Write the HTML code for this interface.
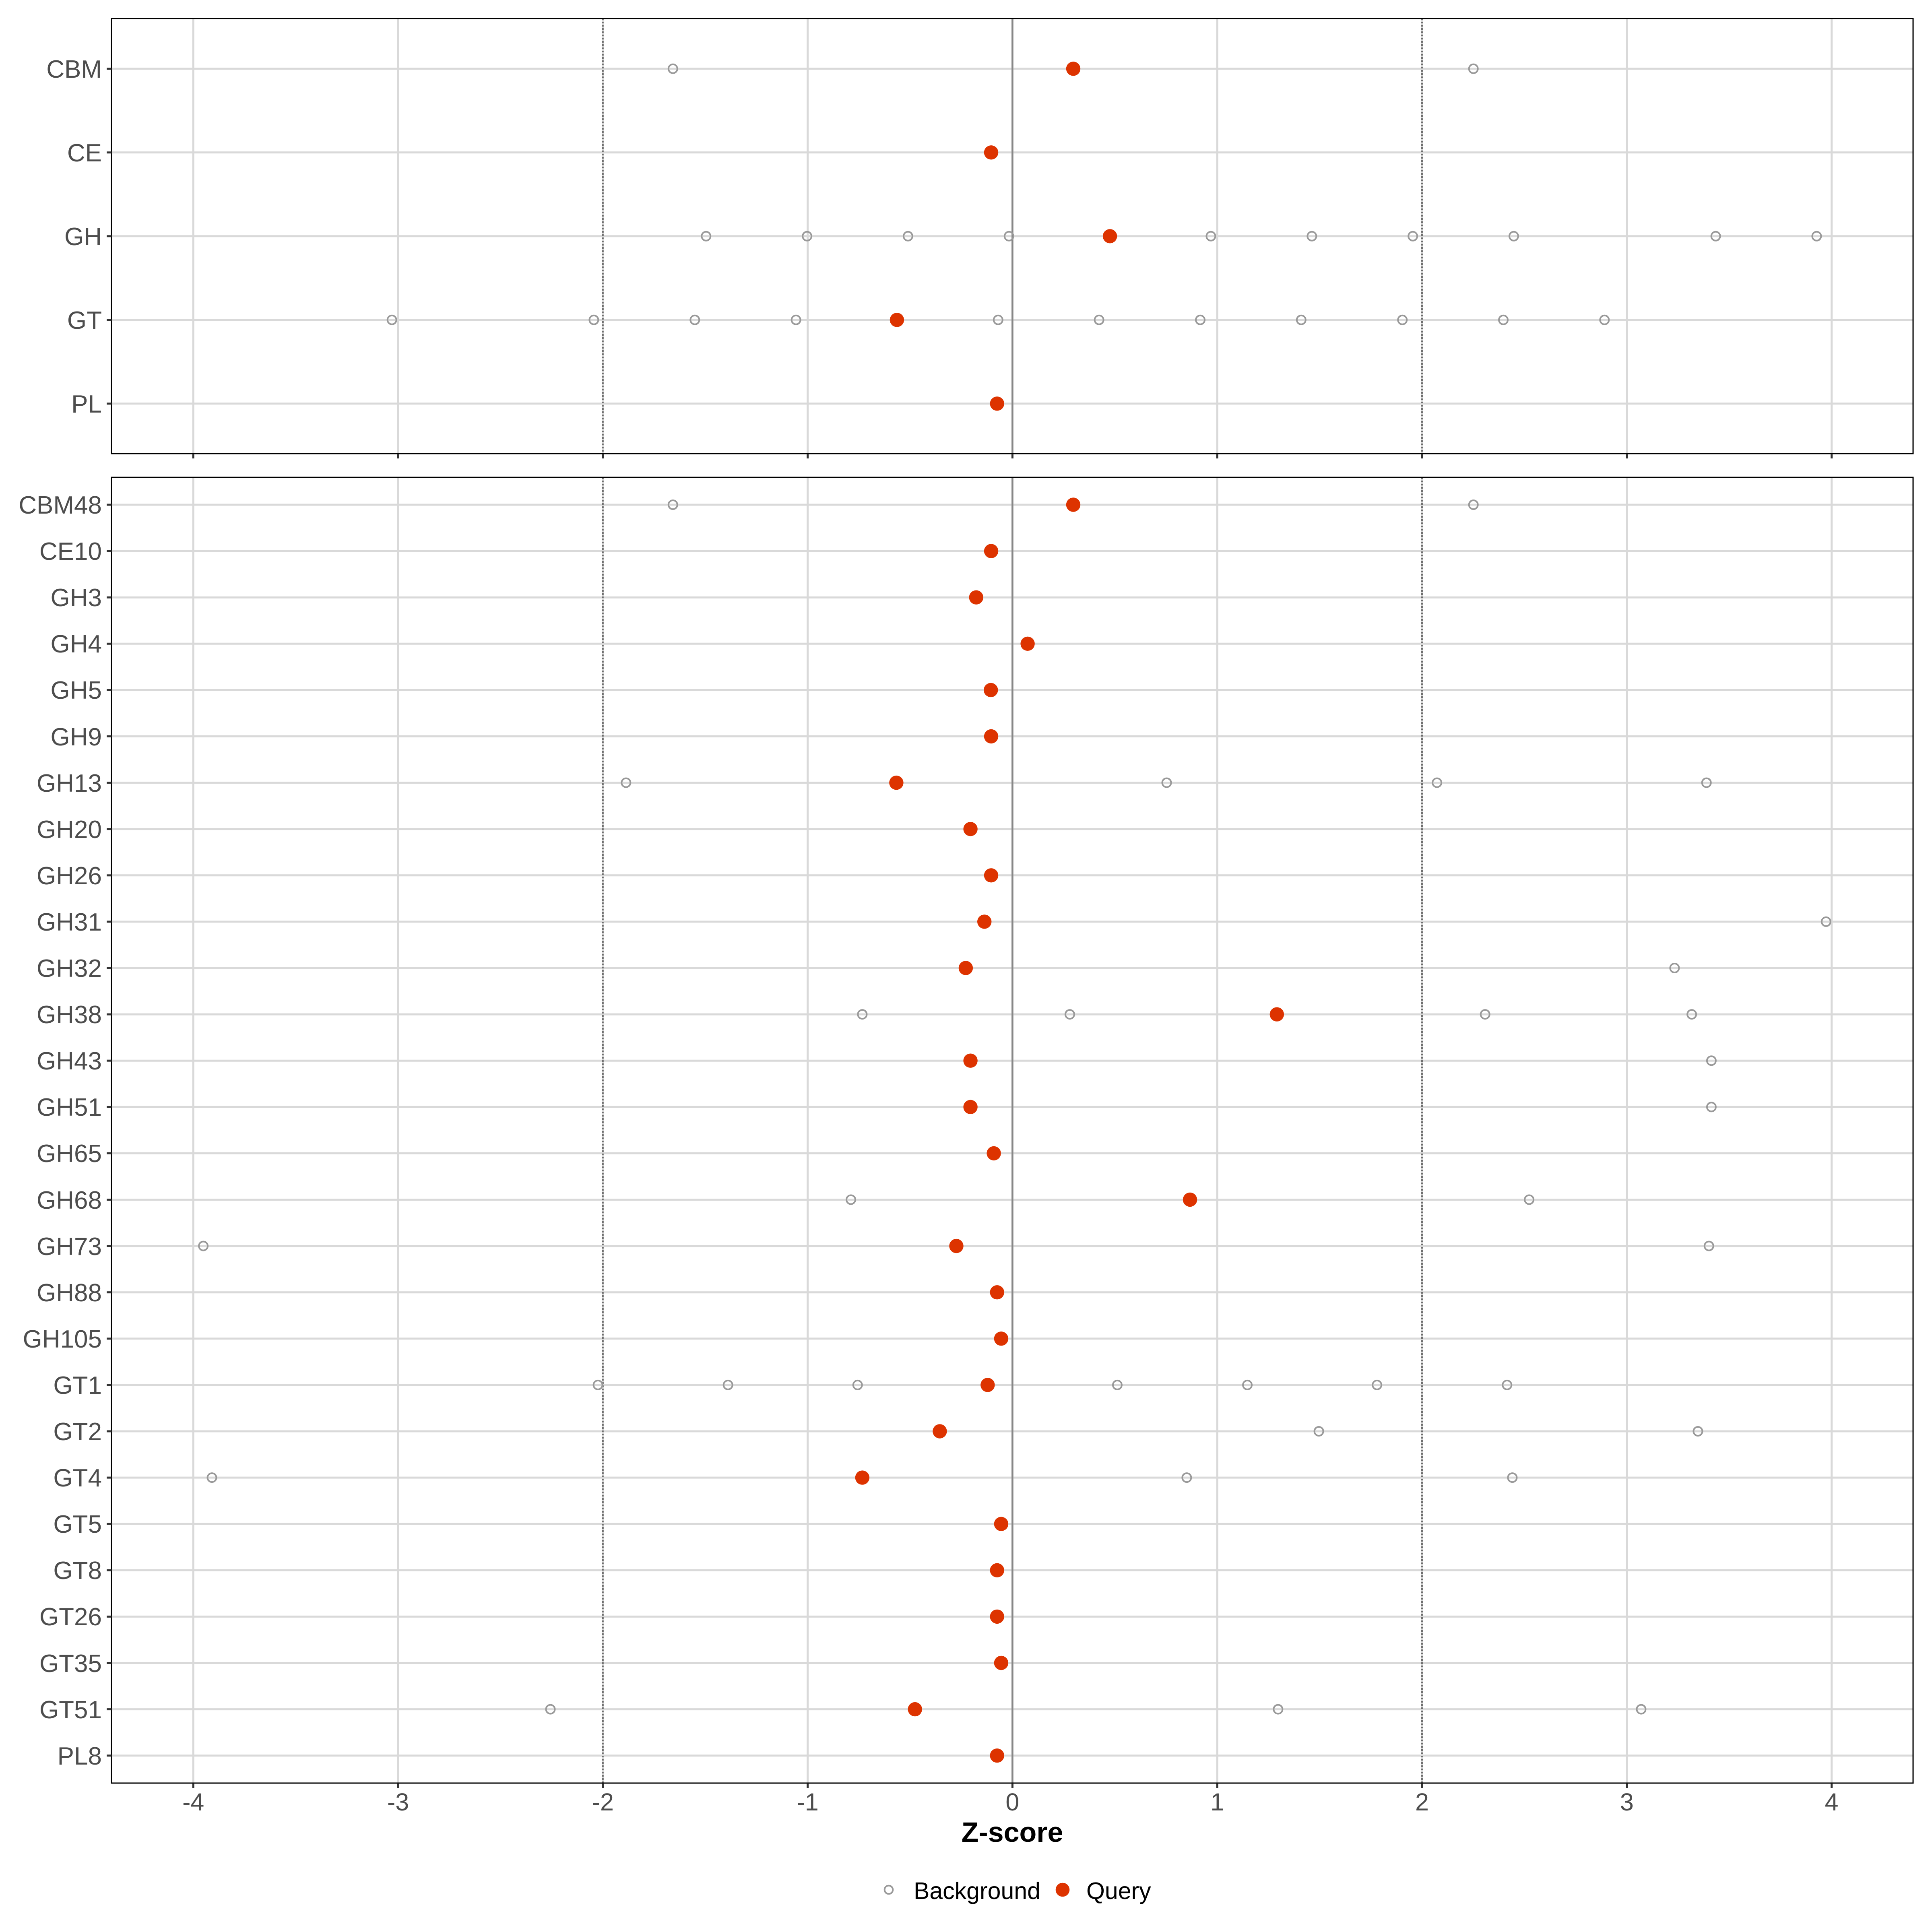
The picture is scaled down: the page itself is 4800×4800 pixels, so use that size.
<!DOCTYPE html>
<html>
<head>
<meta charset="utf-8">
<style>
html,body{margin:0;padding:0;background:#fff;}
svg{display:block;}
text{font-family:"Liberation Sans",Arial,sans-serif;}
</style>
</head>
<body>
<svg xmlns="http://www.w3.org/2000/svg" width="4800" height="4800" viewBox="0 0 4800 4800">
<rect x="0" y="0" width="4800" height="4800" fill="#fff"/>
<defs>
<clipPath id="cTop"><rect x="277" y="46" width="4476" height="1081"/></clipPath>
<clipPath id="cBot"><rect x="277" y="1186" width="4476" height="3244"/></clipPath>
</defs>

<!-- ================= TOP PANEL ================= -->
<g clip-path="url(#cTop)">
  <g stroke="#d9d9d9" stroke-width="5">
    <line x1="277" x2="4753" y1="170.8" y2="170.8"/>
    <line x1="277" x2="4753" y1="378.8" y2="378.8"/>
    <line x1="277" x2="4753" y1="586.8" y2="586.8"/>
    <line x1="277" x2="4753" y1="794.8" y2="794.8"/>
    <line x1="277" x2="4753" y1="1002.8" y2="1002.8"/>
    <line x1="480.2" x2="480.2" y1="46" y2="1127"/>
    <line x1="989" x2="989" y1="46" y2="1127"/>
    <line x1="1497.8" x2="1497.8" y1="46" y2="1127"/>
    <line x1="2006.6" x2="2006.6" y1="46" y2="1127"/>
    <line x1="2515.4" x2="2515.4" y1="46" y2="1127"/>
    <line x1="3024.2" x2="3024.2" y1="46" y2="1127"/>
    <line x1="3533" x2="3533" y1="46" y2="1127"/>
    <line x1="4041.8" x2="4041.8" y1="46" y2="1127"/>
    <line x1="4550.6" x2="4550.6" y1="46" y2="1127"/>
  </g>
  <line x1="2515.4" x2="2515.4" y1="46" y2="1127" stroke="#878787" stroke-width="4.5"/>
  <g stroke="#6e6e6e" stroke-width="4" stroke-dasharray="4 4">
    <line x1="1497.8" x2="1497.8" y1="46" y2="1127"/>
    <line x1="3533" x2="3533" y1="46" y2="1127"/>
  </g>
  <g fill="none" stroke="#999" stroke-width="4">
    <circle cx="1671.8" cy="170.8" r="11"/>
    <circle cx="3660.7" cy="170.8" r="11"/>
    <circle cx="1754.2" cy="586.8" r="11"/>
    <circle cx="2005.1" cy="586.8" r="11"/>
    <circle cx="2255.9" cy="586.8" r="11"/>
    <circle cx="2506.8" cy="586.8" r="11"/>
    <circle cx="3008.4" cy="586.8" r="11"/>
    <circle cx="3259.3" cy="586.8" r="11"/>
    <circle cx="3510.1" cy="586.8" r="11"/>
    <circle cx="3760.9" cy="586.8" r="11"/>
    <circle cx="4262.6" cy="586.8" r="11"/>
    <circle cx="4513.4" cy="586.8" r="11"/>
    <circle cx="973.7" cy="794.8" r="11"/>
    <circle cx="1475.4" cy="794.8" r="11"/>
    <circle cx="1726.3" cy="794.8" r="11"/>
    <circle cx="1977.6" cy="794.8" r="11"/>
    <circle cx="2479.8" cy="794.8" r="11"/>
    <circle cx="2730.6" cy="794.8" r="11"/>
    <circle cx="2982" cy="794.8" r="11"/>
    <circle cx="3232.8" cy="794.8" r="11"/>
    <circle cx="3484.2" cy="794.8" r="11"/>
    <circle cx="3735" cy="794.8" r="11"/>
    <circle cx="3986.3" cy="794.8" r="11"/>
  </g>
  <g fill="#dd3300">
    <circle cx="2666.5" cy="170.8" r="17.7"/>
    <circle cx="2462.5" cy="378.8" r="17.7"/>
    <circle cx="2757.6" cy="586.8" r="17.7"/>
    <circle cx="2228.4" cy="794.8" r="17.7"/>
    <circle cx="2477.2" cy="1002.8" r="17.7"/>
  </g>
</g>
<rect x="277" y="46" width="4476" height="1081" fill="none" stroke="#000" stroke-width="3"/>

<!-- top panel y ticks & labels -->
<g stroke="#333" stroke-width="5">
  <line x1="265" x2="277" y1="170.8" y2="170.8"/>
  <line x1="265" x2="277" y1="378.8" y2="378.8"/>
  <line x1="265" x2="277" y1="586.8" y2="586.8"/>
  <line x1="265" x2="277" y1="794.8" y2="794.8"/>
  <line x1="265" x2="277" y1="1002.8" y2="1002.8"/>
</g>
<g font-size="62" fill="#4d4d4d" text-anchor="end">
  <text x="253" y="193">CBM</text>
  <text x="253" y="401">CE</text>
  <text x="253" y="609">GH</text>
  <text x="253" y="817">GT</text>
  <text x="253" y="1025">PL</text>
</g>
<!-- top panel x ticks -->
<g stroke="#333" stroke-width="5">
  <line x1="480.2" x2="480.2" y1="1128" y2="1139"/>
  <line x1="989" x2="989" y1="1128" y2="1139"/>
  <line x1="1497.8" x2="1497.8" y1="1128" y2="1139"/>
  <line x1="2006.6" x2="2006.6" y1="1128" y2="1139"/>
  <line x1="2515.4" x2="2515.4" y1="1128" y2="1139"/>
  <line x1="3024.2" x2="3024.2" y1="1128" y2="1139"/>
  <line x1="3533" x2="3533" y1="1128" y2="1139"/>
  <line x1="4041.8" x2="4041.8" y1="1128" y2="1139"/>
  <line x1="4550.6" x2="4550.6" y1="1128" y2="1139"/>
</g>

<!-- ================= BOTTOM PANEL ================= -->
<g clip-path="url(#cBot)">
  <g stroke="#d9d9d9" stroke-width="5">
    <line x1="277" x2="4753" y1="1254" y2="1254"/>
    <line x1="277" x2="4753" y1="1369.1" y2="1369.1"/>
    <line x1="277" x2="4753" y1="1484.2" y2="1484.2"/>
    <line x1="277" x2="4753" y1="1599.3" y2="1599.3"/>
    <line x1="277" x2="4753" y1="1714.4" y2="1714.4"/>
    <line x1="277" x2="4753" y1="1829.5" y2="1829.5"/>
    <line x1="277" x2="4753" y1="1944.6" y2="1944.6"/>
    <line x1="277" x2="4753" y1="2059.7" y2="2059.7"/>
    <line x1="277" x2="4753" y1="2174.8" y2="2174.8"/>
    <line x1="277" x2="4753" y1="2289.9" y2="2289.9"/>
    <line x1="277" x2="4753" y1="2405" y2="2405"/>
    <line x1="277" x2="4753" y1="2520.1" y2="2520.1"/>
    <line x1="277" x2="4753" y1="2635.2" y2="2635.2"/>
    <line x1="277" x2="4753" y1="2750.3" y2="2750.3"/>
    <line x1="277" x2="4753" y1="2865.4" y2="2865.4"/>
    <line x1="277" x2="4753" y1="2980.5" y2="2980.5"/>
    <line x1="277" x2="4753" y1="3095.6" y2="3095.6"/>
    <line x1="277" x2="4753" y1="3210.7" y2="3210.7"/>
    <line x1="277" x2="4753" y1="3325.8" y2="3325.8"/>
    <line x1="277" x2="4753" y1="3440.9" y2="3440.9"/>
    <line x1="277" x2="4753" y1="3556" y2="3556"/>
    <line x1="277" x2="4753" y1="3671.1" y2="3671.1"/>
    <line x1="277" x2="4753" y1="3786.2" y2="3786.2"/>
    <line x1="277" x2="4753" y1="3901.3" y2="3901.3"/>
    <line x1="277" x2="4753" y1="4016.4" y2="4016.4"/>
    <line x1="277" x2="4753" y1="4131.5" y2="4131.5"/>
    <line x1="277" x2="4753" y1="4246.6" y2="4246.6"/>
    <line x1="277" x2="4753" y1="4361.7" y2="4361.7"/>
    <line x1="480.2" x2="480.2" y1="1186" y2="4430"/>
    <line x1="989" x2="989" y1="1186" y2="4430"/>
    <line x1="1497.8" x2="1497.8" y1="1186" y2="4430"/>
    <line x1="2006.6" x2="2006.6" y1="1186" y2="4430"/>
    <line x1="2515.4" x2="2515.4" y1="1186" y2="4430"/>
    <line x1="3024.2" x2="3024.2" y1="1186" y2="4430"/>
    <line x1="3533" x2="3533" y1="1186" y2="4430"/>
    <line x1="4041.8" x2="4041.8" y1="1186" y2="4430"/>
    <line x1="4550.6" x2="4550.6" y1="1186" y2="4430"/>
  </g>
  <line x1="2515.4" x2="2515.4" y1="1186" y2="4430" stroke="#878787" stroke-width="4.5"/>
  <g stroke="#6e6e6e" stroke-width="4" stroke-dasharray="4 4">
    <line x1="1497.8" x2="1497.8" y1="1186" y2="4430"/>
    <line x1="3533" x2="3533" y1="1186" y2="4430"/>
  </g>
  <g fill="none" stroke="#999" stroke-width="4">
    <!-- CBM48 -->
    <circle cx="1671.8" cy="1254" r="11"/>
    <circle cx="3660.7" cy="1254" r="11"/>
    <!-- GH13 -->
    <circle cx="1555.3" cy="1944.6" r="11"/>
    <circle cx="2898.5" cy="1944.6" r="11"/>
    <circle cx="3570.1" cy="1944.6" r="11"/>
    <circle cx="4239.7" cy="1944.6" r="11"/>
    <!-- GH31 -->
    <circle cx="4536.8" cy="2289.9" r="11"/>
    <!-- GH32 -->
    <circle cx="4160.4" cy="2405" r="11"/>
    <!-- GH38 -->
    <circle cx="2142.4" cy="2520.1" r="11"/>
    <circle cx="2657.9" cy="2520.1" r="11"/>
    <circle cx="3689.7" cy="2520.1" r="11"/>
    <circle cx="4203.1" cy="2520.1" r="11"/>
    <!-- GH43 / GH51 -->
    <circle cx="4251.9" cy="2635.2" r="11"/>
    <circle cx="4251.9" cy="2750.3" r="11"/>
    <!-- GH68 -->
    <circle cx="2114" cy="2980.5" r="11"/>
    <circle cx="3799.1" cy="2980.5" r="11"/>
    <!-- GH73 -->
    <circle cx="505.1" cy="3095.6" r="11"/>
    <circle cx="4245.8" cy="3095.6" r="11"/>
    <!-- GT1 -->
    <circle cx="1485.6" cy="3440.9" r="11"/>
    <circle cx="1808.7" cy="3440.9" r="11"/>
    <circle cx="2130.7" cy="3440.9" r="11"/>
    <circle cx="2775.9" cy="3440.9" r="11"/>
    <circle cx="3099" cy="3440.9" r="11"/>
    <circle cx="3421.1" cy="3440.9" r="11"/>
    <circle cx="3744.2" cy="3440.9" r="11"/>
    <!-- GT2 -->
    <circle cx="3276.6" cy="3556" r="11"/>
    <circle cx="4218.4" cy="3556" r="11"/>
    <!-- GT4 -->
    <circle cx="526.5" cy="3671.1" r="11"/>
    <circle cx="2948.4" cy="3671.1" r="11"/>
    <circle cx="3757.4" cy="3671.1" r="11"/>
    <!-- GT51 -->
    <circle cx="1367.5" cy="4246.6" r="11"/>
    <circle cx="3175.3" cy="4246.6" r="11"/>
    <circle cx="4077.4" cy="4246.6" r="11"/>
  </g>
  <g fill="#dd3300">
    <circle cx="2666.5" cy="1254" r="17.7"/>
    <circle cx="2462.5" cy="1369.1" r="17.7"/>
    <circle cx="2425.3" cy="1484.2" r="17.7"/>
    <circle cx="2553.1" cy="1599.3" r="17.7"/>
    <circle cx="2461.7" cy="1714.4" r="17.7"/>
    <circle cx="2462.5" cy="1829.5" r="17.7"/>
    <circle cx="2226.9" cy="1944.6" r="17.7"/>
    <circle cx="2411.1" cy="2059.7" r="17.7"/>
    <circle cx="2462.5" cy="2174.8" r="17.7"/>
    <circle cx="2445.7" cy="2289.9" r="17.7"/>
    <circle cx="2399.4" cy="2405" r="17.7"/>
    <circle cx="3172.3" cy="2520.1" r="17.7"/>
    <circle cx="2411.1" cy="2635.2" r="17.7"/>
    <circle cx="2411.1" cy="2750.3" r="17.7"/>
    <circle cx="2469.1" cy="2865.4" r="17.7"/>
    <circle cx="2956.5" cy="2980.5" r="17.7"/>
    <circle cx="2376" cy="3095.6" r="17.7"/>
    <circle cx="2477.2" cy="3210.7" r="17.7"/>
    <circle cx="2487.4" cy="3325.8" r="17.7"/>
    <circle cx="2453.8" cy="3440.9" r="17.7"/>
    <circle cx="2334.8" cy="3556" r="17.7"/>
    <circle cx="2142.4" cy="3671.1" r="17.7"/>
    <circle cx="2487.4" cy="3786.2" r="17.7"/>
    <circle cx="2477.2" cy="3901.3" r="17.7"/>
    <circle cx="2477.2" cy="4016.4" r="17.7"/>
    <circle cx="2487.4" cy="4131.5" r="17.7"/>
    <circle cx="2273.2" cy="4246.6" r="17.7"/>
    <circle cx="2477.2" cy="4361.7" r="17.7"/>
  </g>
</g>
<rect x="277" y="1186" width="4476" height="3244" fill="none" stroke="#000" stroke-width="3"/>

<!-- bottom panel y ticks -->
<g stroke="#333" stroke-width="5">
  <line x1="265" x2="277" y1="1254" y2="1254"/>
  <line x1="265" x2="277" y1="1369.1" y2="1369.1"/>
  <line x1="265" x2="277" y1="1484.2" y2="1484.2"/>
  <line x1="265" x2="277" y1="1599.3" y2="1599.3"/>
  <line x1="265" x2="277" y1="1714.4" y2="1714.4"/>
  <line x1="265" x2="277" y1="1829.5" y2="1829.5"/>
  <line x1="265" x2="277" y1="1944.6" y2="1944.6"/>
  <line x1="265" x2="277" y1="2059.7" y2="2059.7"/>
  <line x1="265" x2="277" y1="2174.8" y2="2174.8"/>
  <line x1="265" x2="277" y1="2289.9" y2="2289.9"/>
  <line x1="265" x2="277" y1="2405" y2="2405"/>
  <line x1="265" x2="277" y1="2520.1" y2="2520.1"/>
  <line x1="265" x2="277" y1="2635.2" y2="2635.2"/>
  <line x1="265" x2="277" y1="2750.3" y2="2750.3"/>
  <line x1="265" x2="277" y1="2865.4" y2="2865.4"/>
  <line x1="265" x2="277" y1="2980.5" y2="2980.5"/>
  <line x1="265" x2="277" y1="3095.6" y2="3095.6"/>
  <line x1="265" x2="277" y1="3210.7" y2="3210.7"/>
  <line x1="265" x2="277" y1="3325.8" y2="3325.8"/>
  <line x1="265" x2="277" y1="3440.9" y2="3440.9"/>
  <line x1="265" x2="277" y1="3556" y2="3556"/>
  <line x1="265" x2="277" y1="3671.1" y2="3671.1"/>
  <line x1="265" x2="277" y1="3786.2" y2="3786.2"/>
  <line x1="265" x2="277" y1="3901.3" y2="3901.3"/>
  <line x1="265" x2="277" y1="4016.4" y2="4016.4"/>
  <line x1="265" x2="277" y1="4131.5" y2="4131.5"/>
  <line x1="265" x2="277" y1="4246.6" y2="4246.6"/>
  <line x1="265" x2="277" y1="4361.7" y2="4361.7"/>
</g>
<g font-size="62" fill="#4d4d4d" text-anchor="end">
  <text x="253" y="1276">CBM48</text>
  <text x="253" y="1391">CE10</text>
  <text x="253" y="1506">GH3</text>
  <text x="253" y="1621">GH4</text>
  <text x="253" y="1736">GH5</text>
  <text x="253" y="1852">GH9</text>
  <text x="253" y="1967">GH13</text>
  <text x="253" y="2082">GH20</text>
  <text x="253" y="2197">GH26</text>
  <text x="253" y="2312">GH31</text>
  <text x="253" y="2427">GH32</text>
  <text x="253" y="2542">GH38</text>
  <text x="253" y="2657">GH43</text>
  <text x="253" y="2772">GH51</text>
  <text x="253" y="2887">GH65</text>
  <text x="253" y="3003">GH68</text>
  <text x="253" y="3118">GH73</text>
  <text x="253" y="3233">GH88</text>
  <text x="253" y="3348">GH105</text>
  <text x="253" y="3463">GT1</text>
  <text x="253" y="3578">GT2</text>
  <text x="253" y="3693">GT4</text>
  <text x="253" y="3808">GT5</text>
  <text x="253" y="3923">GT8</text>
  <text x="253" y="4038">GT26</text>
  <text x="253" y="4154">GT35</text>
  <text x="253" y="4269">GT51</text>
  <text x="253" y="4384">PL8</text>
</g>

<!-- bottom x ticks & labels -->
<g stroke="#333" stroke-width="5">
  <line x1="480.2" x2="480.2" y1="4431" y2="4442"/>
  <line x1="989" x2="989" y1="4431" y2="4442"/>
  <line x1="1497.8" x2="1497.8" y1="4431" y2="4442"/>
  <line x1="2006.6" x2="2006.6" y1="4431" y2="4442"/>
  <line x1="2515.4" x2="2515.4" y1="4431" y2="4442"/>
  <line x1="3024.2" x2="3024.2" y1="4431" y2="4442"/>
  <line x1="3533" x2="3533" y1="4431" y2="4442"/>
  <line x1="4041.8" x2="4041.8" y1="4431" y2="4442"/>
  <line x1="4550.6" x2="4550.6" y1="4431" y2="4442"/>
</g>
<g font-size="61" fill="#4d4d4d" text-anchor="middle">
  <text x="480.2" y="4498">-4</text>
  <text x="989" y="4498">-3</text>
  <text x="1497.8" y="4498">-2</text>
  <text x="2006.6" y="4498">-1</text>
  <text x="2515.4" y="4498">0</text>
  <text x="3024.2" y="4498">1</text>
  <text x="3533" y="4498">2</text>
  <text x="4041.8" y="4498">3</text>
  <text x="4550.6" y="4498">4</text>
</g>

<!-- axis title -->
<text x="2515" y="4576" font-size="70" font-weight="bold" fill="#000" text-anchor="middle">Z-score</text>

<!-- legend -->
<circle cx="2208" cy="4695" r="10.3" fill="none" stroke="#999" stroke-width="4"/>
<text x="2270" y="4718" font-size="59" fill="#000">Background</text>
<circle cx="2640" cy="4695" r="17.3" fill="#dd3300"/>
<text x="2699" y="4718" font-size="59" fill="#000">Query</text>
</svg>
</body>
</html>
